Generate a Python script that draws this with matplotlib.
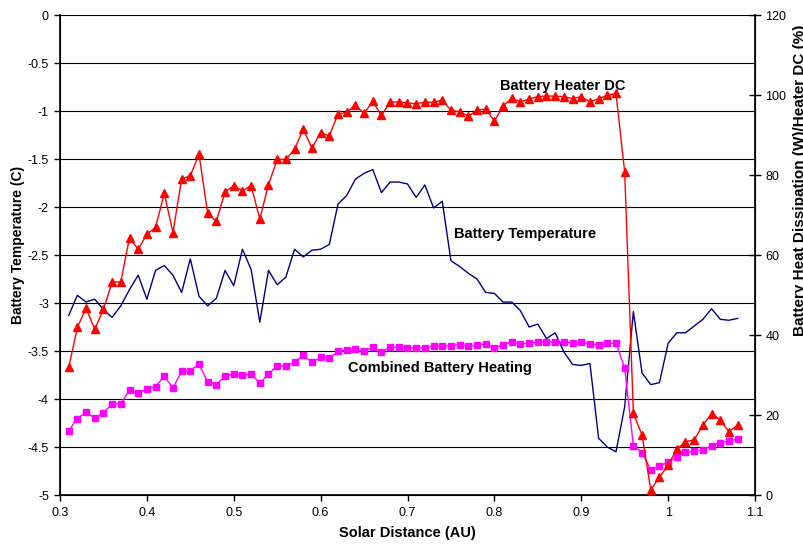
import matplotlib.pyplot as plt
import numpy as np

plt.rcParams['font.family'] = ['Liberation Sans', 'DejaVu Sans']

dist = [0.31, 0.32, 0.33, 0.34, 0.35, 0.36, 0.37, 0.38, 0.39, 0.40,
        0.41, 0.42, 0.43, 0.44, 0.45, 0.46, 0.47, 0.48, 0.49, 0.50,
        0.51, 0.52, 0.53, 0.54, 0.55, 0.56, 0.57, 0.58, 0.59, 0.60,
        0.61, 0.62, 0.63, 0.64, 0.65, 0.66, 0.67, 0.68, 0.69, 0.70,
        0.71, 0.72, 0.73, 0.74, 0.75, 0.76, 0.77, 0.78, 0.79, 0.80,
        0.81, 0.82, 0.83, 0.84, 0.85, 0.86, 0.87, 0.88, 0.89, 0.90,
        0.91, 0.92, 0.93, 0.94, 0.95, 0.96, 0.97, 0.98, 0.99, 1.00,
        1.01, 1.02, 1.03, 1.04, 1.05, 1.06, 1.07, 1.08]

# battery temperature (C), left axis
temp = [-3.13, -2.92, -2.99, -2.96, -3.07, -3.15, -3.03, -2.86, -2.71, -2.96,
        -2.66, -2.61, -2.71, -2.89, -2.54, -2.93, -3.03, -2.95, -2.66, -2.82,
        -2.44, -2.65, -3.20, -2.66, -2.81, -2.73, -2.44, -2.52, -2.45, -2.44,
        -2.39, -1.97, -1.88, -1.71, -1.65, -1.61, -1.85, -1.74, -1.74, -1.76,
        -1.90, -1.77, -2.01, -1.94, -2.56, -2.62, -2.69, -2.75, -2.89, -2.90,
        -2.99, -2.99, -3.08, -3.25, -3.22, -3.37, -3.31, -3.51, -3.64, -3.65,
        -3.63, -4.41, -4.50, -4.55, -4.08, -3.09, -3.73, -3.85, -3.83, -3.42,
        -3.31, -3.31, -3.24, -3.17, -3.06, -3.17, -3.18, -3.16]

# heater duty cycle (%), right axis
heater_dc = [31.9, 41.9, 46.7, 41.4, 46.4, 53.2, 53.3, 64.3, 61.4, 65.2,
             66.9, 75.4, 65.6, 79.0, 79.8, 85.2, 70.4, 68.4, 75.8, 77.3,
             76.1, 77.3, 69.0, 77.6, 83.9, 83.9, 86.4, 91.5, 86.7, 90.6,
             89.8, 95.2, 95.7, 97.4, 95.4, 98.4, 94.9, 98.2, 98.3, 98.0,
             97.8, 98.2, 98.2, 98.7, 96.2, 95.8, 94.7, 96.2, 96.5, 93.5,
             97.2, 99.2, 98.3, 99.0, 99.6, 99.75, 99.7, 99.6, 99.1, 99.6,
             98.3, 99.1, 99.9, 100.4, 80.7, 20.4, 15.0, 1.3, 4.4, 7.5,
             11.5, 13.3, 13.8, 17.5, 20.3, 18.8, 15.8, 17.5]

# combined battery heating (W), right axis
heating = [16.1, 19.1, 20.7, 19.2, 20.6, 22.7, 22.8, 26.2, 25.4, 26.6,
           27.1, 29.75, 26.75, 30.9, 31.1, 32.75, 28.25, 27.6, 29.8, 30.3,
           29.9, 30.3, 27.9, 30.25, 32.3, 32.3, 33.2, 34.9, 33.2, 34.5,
           34.2, 35.9, 36.25, 36.5, 36.0, 36.9, 35.8, 36.9, 36.9, 36.8,
           36.75, 36.8, 37.25, 37.25, 37.3, 37.6, 37.3, 37.4, 37.75, 36.75,
           37.6, 38.2, 37.8, 37.9, 38.2, 38.25, 38.25, 38.2, 38.0, 38.2,
           37.8, 37.5, 37.9, 37.9, 31.8, 12.3, 10.6, 6.25, 7.25, 8.2,
           9.6, 10.7, 11.0, 11.25, 12.3, 13.1, 13.5, 14.0]

fig = plt.figure(figsize=(8.04, 5.45), dpi=100)
ax = fig.add_axes([60/804, 1-495/545, 695/804, 480/545])
ax2 = ax.twinx()

ax.set_xlim(0.3, 1.1)
ax.set_ylim(-5, 0)
ax.set_xticks(np.arange(0.3, 1.11, 0.1))
ax.set_xticklabels(['0.3', '0.4', '0.5', '0.6', '0.7', '0.8', '0.9', '1', '1.1'])
ax.set_yticks(np.arange(-5, 0.01, 0.5))
ax.set_yticklabels(['-5', '-4.5', '-4', '-3.5', '-3', '-2.5', '-2', '-1.5', '-1', '-0.5', '0'])
ax.grid(axis='y', color='black', lw=0.8)
ax.tick_params(axis='both', labelsize=9, direction='out', length=4, width=1)
ax.tick_params(axis='x', pad=5)
ax.tick_params(axis='y', pad=4)
ax.spines['top'].set_visible(False)
ax.spines['left'].set_linewidth(1.2)
ax.spines['bottom'].set_linewidth(1.2)

ax.plot(dist, temp, color='#000080', lw=1)

ax2.set_ylim(0, 120)
ax2.set_yticks(np.arange(0, 121, 20))
ax2.tick_params(axis='y', labelsize=9, direction='inout', length=8, width=1)
ax2.spines['top'].set_visible(False)
ax2.spines['right'].set_linewidth(1.2)

ax2.plot(dist, heating, color='#FF00FF', lw=1, marker='s', markersize=5)
ax2.plot(dist, heater_dc, color='#FF0000', lw=1, marker='^', markersize=6)

ax.set_xlabel('Solar Distance (AU)', fontsize=10.5, fontweight='bold', labelpad=5)
ax.set_ylabel('Battery Temperature (C)', fontsize=10, fontweight='bold')
ax.yaxis.set_label_coords(-0.050, 0.521)
ax2.set_ylabel('Battery Heat Dissipation (W)/Heater DC (%)', fontsize=11,
               fontweight='bold')
ax2.yaxis.set_label_coords(1.0547, 0.656)

ax2.text(0.806, 102.2, 'Battery Heater DC', fontsize=10.5, fontweight='bold', va='center')
ax.text(0.753, -2.28, 'Battery Temperature', fontsize=10.5, fontweight='bold', va='center')
ax.text(0.631, -3.68, 'Combined Battery Heating', fontsize=10.5, fontweight='bold', va='center')

plt.savefig('out.png', dpi=100)
